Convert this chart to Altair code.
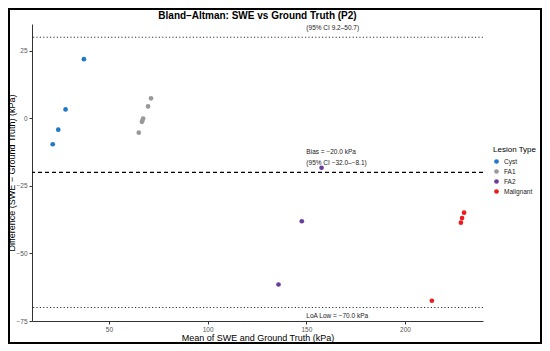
import altair as alt
import pandas as pd

# ---- data ----
lesion = ["Cyst", "Cyst", "Cyst", "Cyst",
          "FA1", "FA1", "FA1", "FA1", "FA1", "FA1",
          "FA2", "FA2", "FA2",
          "Malignant", "Malignant", "Malignant", "Malignant"]
mean_kpa = [21.5, 24.3, 28.0, 37.3,
            65.1, 66.7, 66.9, 67.3, 69.8, 71.3,
            135.9, 147.7, 157.7,
            213.6, 228.3, 228.9, 229.9]
diff_kpa = [-9.6, -4.2, 3.3, 21.9,
            -5.3, -1.3, -0.9, -0.1, 4.4, 7.4,
            -61.5, -38.1, -18.3,
            -67.5, -38.6, -36.9, -34.9]

categories = ["Cyst", "FA1", "FA2", "Malignant"]
cat_colors = ["#1F78C8", "#999999", "#6A3D9A", "#EE1A1C"]

bias = -20.0
loa_low = -70.0
loa_high = 30.0

label_x = [150, 150, 150, 150]
label_y = [33.4, -12.6, -16.4, -73.0]
label_text = ["(95% CI 9.2–50.7)", "Bias = −20.0 kPa",
              "(95% CI −32.0–−8.1)", "LoA Low = −70.0 kPa"]

x_ticks = [50, 100, 150, 200]
y_ticks = [-75, -50, -25, 0, 25]

W, H = 451, 297
FONT = "Liberation Sans"

pts = pd.DataFrame({"mean": mean_kpa, "diff": diff_kpa, "type": lesion})
labels = pd.DataFrame({"x": label_x, "y": label_y, "label": label_text})

xscale = alt.Scale(domain=[11, 239.5], nice=False, zero=False)
yscale = alt.Scale(domain=[-75, 34.9], nice=False, zero=False)

points = alt.Chart(pts).mark_circle(size=22, opacity=1).encode(
    x=alt.X("mean:Q", scale=xscale,
            axis=alt.Axis(values=x_ticks, title="Mean of SWE and Ground Truth (kPa)",
                          titleX=W / 2, titleY=16, titleBaseline="middle", titleAlign="center")),
    y=alt.Y("diff:Q", scale=yscale,
            axis=alt.Axis(values=y_ticks, title="Difference (SWE − Ground Truth) (kPa)",
                          titleX=-21, titleY=H / 2, titleBaseline="middle", titleAlign="center",
                          titleAngle=270)),
    color=alt.Color("type:N", scale=alt.Scale(domain=categories, range=cat_colors),
                    legend=alt.Legend(title="Lesion Type", orient="none",
                                      legendX=461, legendY=122)),
)

rule_hi = alt.Chart(pd.DataFrame({"y": [loa_high]})).mark_rule(
    color="#333333", strokeWidth=1, strokeDash=[1.2, 2.2]).encode(y=alt.Y("y:Q", scale=yscale))
rule_lo = alt.Chart(pd.DataFrame({"y": [loa_low]})).mark_rule(
    color="#333333", strokeWidth=1, strokeDash=[1.2, 2.2]).encode(y=alt.Y("y:Q", scale=yscale))
rule_bias = alt.Chart(pd.DataFrame({"y": [bias]})).mark_rule(
    color="#000000", strokeWidth=1.3, strokeDash=[4, 3]).encode(y=alt.Y("y:Q", scale=yscale))

texts = alt.Chart(labels).mark_text(
    align="left", baseline="middle", fontSize=6.5, font=FONT, color="#222222").encode(
    x=alt.X("x:Q", scale=xscale), y=alt.Y("y:Q", scale=yscale), text="label:N")

frame = alt.Chart(pd.DataFrame({"a": [0]})).mark_rect(
    fill="white", fillOpacity=0, stroke="black", strokeOpacity=1, strokeWidth=2).encode(
    x=alt.value(-23), x2=alt.value(W + 58), y=alt.value(-15), y2=alt.value(H + 22))

chart = alt.layer(frame, rule_hi, rule_lo, rule_bias, points, texts).properties(
    width=W, height=H,
    autosize=alt.AutoSizeParams(type="none"),
    padding={"left": 24, "top": 16, "right": 59, "bottom": 26},
    title=alt.TitleParams("Bland–Altman: SWE vs Ground Truth (P2)", anchor="middle",
                          frame="group", fontSize=10, fontWeight="bold", font=FONT,
                          color="black", offset=4, dy=17),
).configure_view(stroke=None).configure_axis(
    grid=False, domainColor="#333333", domainWidth=1, tickColor="#333333", tickSize=3,
    labelColor="#555555", labelFontSize=6.5, labelFont=FONT,
    titleFont=FONT, titleFontSize=9, titleFontWeight="normal", titleColor="black",
).configure_axisY(labelPadding=2).configure_axisX(labelPadding=2
).configure_legend(
    titleFont=FONT, titleFontSize=8, titleFontWeight="normal", titleColor="black",
    labelFont=FONT, labelFontSize=6.5, labelColor="#222222", symbolSize=22,
    symbolType="circle", rowPadding=3, titlePadding=4,
)

chart.save("out.html", embed_options={"renderer": "svg", "actions": False})
